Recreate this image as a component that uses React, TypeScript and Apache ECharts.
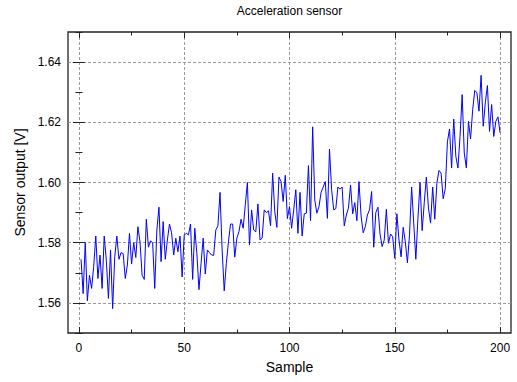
import React, { useEffect, useRef } from "react";
import * as echarts from "echarts";

const TITLE = "Acceleration sensor";
const X_NAME = "Sample";
const Y_NAME = "Sensor output [V]";

const X_MAJOR = [0, 50, 100, 150, 200];
const X_MINOR = [25, 75, 125, 175];
const Y_MAJOR = [1.56, 1.58, 1.6, 1.62, 1.64];
const Y_MINOR = [1.55, 1.57, 1.59, 1.61, 1.63, 1.65];

const FIRST_SAMPLE = 1;

const SENSOR_VALUES = [
  1.5745, 1.5631, 1.58, 1.5607, 1.5692, 1.5648, 1.572, 1.5822, 1.5681, 1.5759,
  1.5648, 1.5822, 1.5742, 1.5615, 1.5776, 1.5581, 1.5753, 1.5822, 1.5745, 1.5767,
  1.5764, 1.5681, 1.5726, 1.5831, 1.5729, 1.58, 1.5751, 1.5853, 1.5803, 1.5692,
  1.5678, 1.5878, 1.5785, 1.5806, 1.58, 1.5648, 1.5842, 1.5918, 1.5737, 1.587,
  1.5745, 1.5809, 1.5862, 1.5833, 1.5759, 1.5815, 1.577, 1.5822, 1.5686, 1.5826,
  1.5831, 1.5826, 1.5862, 1.5678, 1.5848, 1.5765, 1.5644, 1.5731, 1.5815, 1.5696,
  1.5776, 1.5767, 1.5759, 1.5758, 1.5842, 1.5856, 1.5967, 1.5776, 1.564, 1.5731,
  1.5803, 1.5862, 1.5862, 1.5752, 1.5815, 1.5837, 1.5878, 1.5848, 1.5926, 1.6,
  1.5792, 1.5909, 1.5842, 1.5836, 1.5929, 1.5809, 1.5815, 1.5909, 1.59, 1.5906,
  1.5856, 1.6031, 1.5903, 1.5851, 1.6018, 1.6003, 1.5937, 1.6024, 1.588, 1.592,
  1.5848, 1.5909, 1.5976, 1.5831, 1.5967, 1.5822, 1.5896, 1.5898, 1.6056, 1.5873,
  1.6185, 1.5942, 1.5898, 1.592, 1.5967, 1.5985, 1.6003, 1.5881, 1.6111, 1.5976,
  1.5909, 1.5913, 1.5985, 1.5978, 1.5985, 1.5856, 1.5892, 1.5915, 1.5992, 1.5896,
  1.5933, 1.5873, 1.6003, 1.5889, 1.5833, 1.5853, 1.5892, 1.5909, 1.597, 1.5785,
  1.59, 1.5918, 1.5829, 1.5787, 1.5809, 1.5911, 1.5798, 1.5829, 1.582, 1.5748,
  1.5896, 1.5809, 1.5753, 1.5851, 1.5803, 1.5733, 1.5826, 1.5985, 1.5865, 1.5745,
  1.5881, 1.6, 1.584, 1.5933, 1.6018, 1.5915, 1.5865, 1.5985, 1.5878, 1.5998,
  1.604, 1.6031, 1.5946, 1.598, 1.6135, 1.6178, 1.6048, 1.6211, 1.6087, 1.6048,
  1.6153, 1.6292, 1.6098, 1.6048, 1.6203, 1.6145, 1.6242, 1.6306, 1.6298, 1.6237,
  1.6356, 1.6187, 1.6265, 1.6322, 1.617, 1.6259, 1.6153, 1.6203, 1.6218, 1.6165,
];

const X_MIN = -5.2;
const X_MAX = 205.2;
const Y_MIN = 1.55;
const Y_MAX = 1.65;

const FONT = "'Liberation Sans', Arial, Helvetica, sans-serif";

export default function App() {
  const ref = useRef<HTMLDivElement>(null);

  useEffect(() => {
    if (!ref.current) return;
    const chart = echarts.init(ref.current, undefined, { renderer: "svg" });

    const data = SENSOR_VALUES.map((v, i) => [FIRST_SAMPLE + i, v]);

    const tickColor = "#222";
    const gridLine = { show: true, lineStyle: { color: "#9a9a9a", width: 1, type: [3, 2] as any } };

    const xBase = { type: "value" as const, min: X_MIN, max: X_MAX, gridIndex: 0 };
    const yBase = { type: "value" as const, min: Y_MIN, max: Y_MAX, gridIndex: 0 };

    const hiddenLabel = { show: false };
    const noLine = { show: false };

    chart.setOption({
      animation: false,
      textStyle: { fontFamily: FONT },
      graphic: [
        {
          type: "text",
          x: 289.5,
          y: 5,
          style: {
            text: TITLE,
            fontSize: 12,
            fontFamily: FONT,
            fill: "#000",
            textAlign: "center",
            textVerticalAlign: "top",
          },
        },
      ],
      grid: {
        left: 68,
        right: 6,
        top: 32,
        bottom: 49,
        show: true,
        borderColor: "#222",
        borderWidth: 1.3,
        backgroundColor: "transparent",
      },
      xAxis: [
        {
          ...xBase,
          position: "bottom",
          name: X_NAME,
          nameLocation: "middle",
          nameGap: 27,
          nameTextStyle: { fontSize: 14, color: "#000", fontFamily: FONT },
          axisLine: noLine,
          axisTick: { show: true, inside: true, length: 6, customValues: X_MAJOR, lineStyle: { color: tickColor, width: 1 } },
          axisLabel: { show: true, customValues: X_MAJOR, fontSize: 12, color: "#000", margin: 9, fontFamily: FONT },
          splitLine: gridLine,
        },
        {
          ...xBase,
          position: "bottom",
          axisLine: noLine,
          axisTick: { show: true, inside: true, length: 3.5, customValues: X_MINOR, lineStyle: { color: tickColor, width: 1 } },
          axisLabel: hiddenLabel,
          splitLine: { show: false },
        },
        {
          ...xBase,
          position: "top",
          axisLine: noLine,
          axisTick: { show: true, inside: true, length: 6, customValues: X_MAJOR, lineStyle: { color: tickColor, width: 1 } },
          axisLabel: hiddenLabel,
          splitLine: { show: false },
        },
        {
          ...xBase,
          position: "top",
          axisLine: noLine,
          axisTick: { show: true, inside: true, length: 3.5, customValues: X_MINOR, lineStyle: { color: tickColor, width: 1 } },
          axisLabel: hiddenLabel,
          splitLine: { show: false },
        },
      ],
      yAxis: [
        {
          ...yBase,
          position: "left",
          name: Y_NAME,
          nameLocation: "middle",
          nameGap: 40,
          nameTextStyle: { fontSize: 14, color: "#000", fontFamily: FONT },
          axisLine: noLine,
          axisTick: { show: true, inside: true, length: 6, customValues: Y_MAJOR, lineStyle: { color: tickColor, width: 1 } },
          axisLabel: {
            show: true,
            customValues: Y_MAJOR,
            fontSize: 12,
            color: "#000",
            margin: 7,
            fontFamily: FONT,
            formatter: (v: number) => v.toFixed(2),
          },
          splitLine: gridLine,
        },
        {
          ...yBase,
          position: "left",
          axisLine: noLine,
          axisTick: { show: true, inside: true, length: 3.5, customValues: Y_MINOR, lineStyle: { color: tickColor, width: 1 } },
          axisLabel: hiddenLabel,
          splitLine: { show: false },
        },
        {
          ...yBase,
          position: "right",
          axisLine: noLine,
          axisTick: { show: true, inside: true, length: 6, customValues: Y_MAJOR, lineStyle: { color: tickColor, width: 1 } },
          axisLabel: hiddenLabel,
          splitLine: { show: false },
        },
        {
          ...yBase,
          position: "right",
          axisLine: noLine,
          axisTick: { show: true, inside: true, length: 3.5, customValues: Y_MINOR, lineStyle: { color: tickColor, width: 1 } },
          axisLabel: hiddenLabel,
          splitLine: { show: false },
        },
      ],
      series: [
        {
          type: "line",
          xAxisIndex: 0,
          yAxisIndex: 0,
          data,
          showSymbol: false,
          symbol: "none",
          lineStyle: { color: "#0000ff", width: 1 },
          itemStyle: { color: "#0000ff" },
        },
      ],
    });

    return () => chart.dispose();
  }, []);

  return (
    <div
      ref={ref}
      style={{ position: "fixed", left: 0, top: 0, width: 517, height: 382, background: "#fff" }}
    />
  );
}
